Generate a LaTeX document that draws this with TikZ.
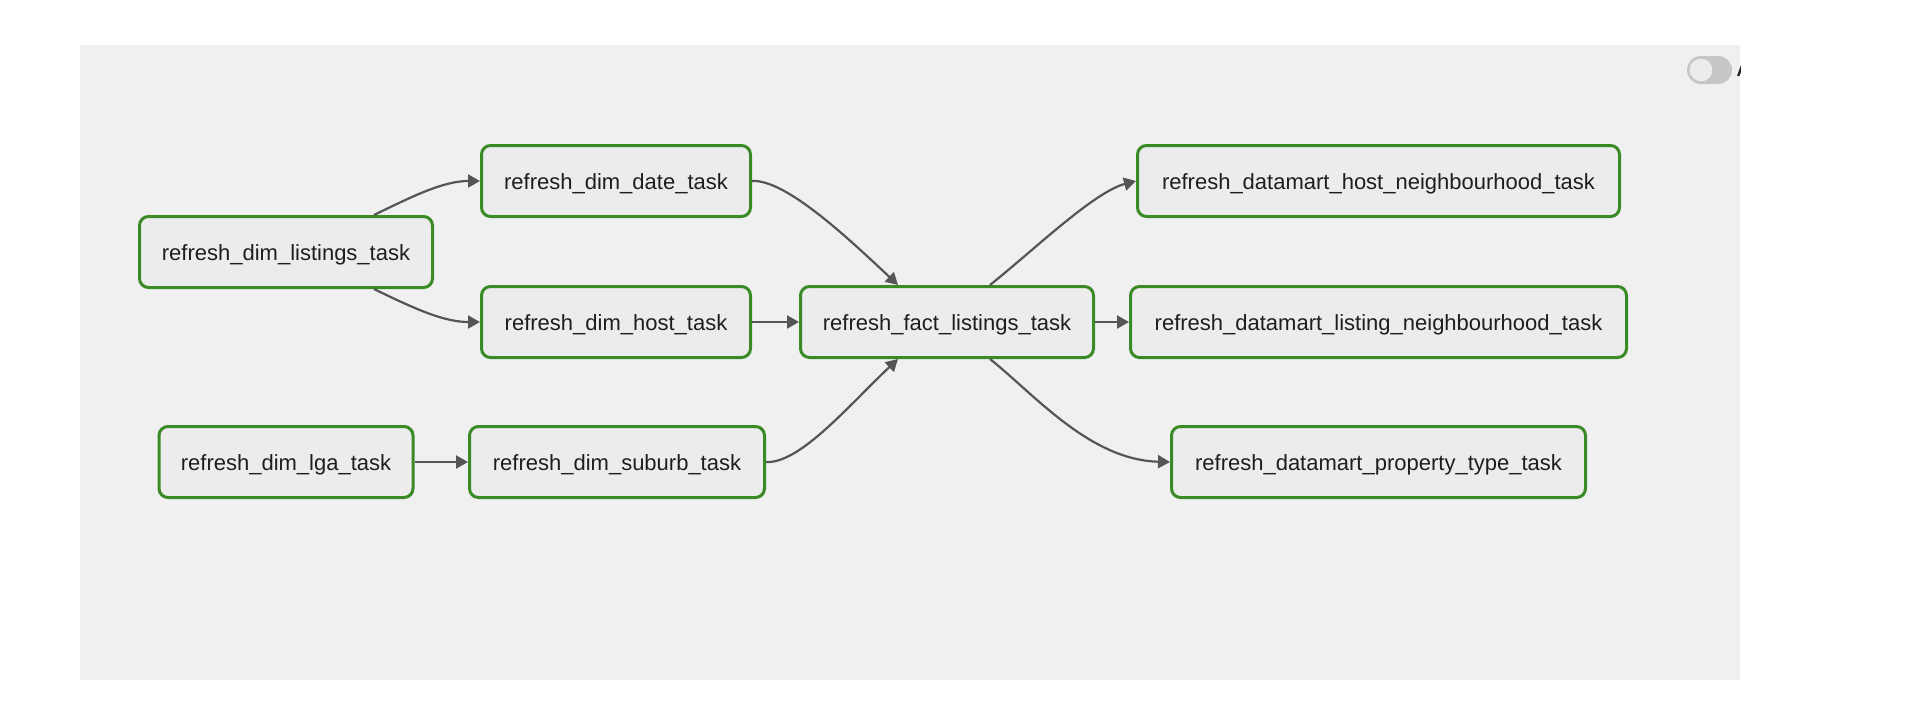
\documentclass[tikz,border=0pt]{standalone}
\usepackage{fontspec}
\setmainfont{Liberation Sans}
\usetikzlibrary{arrows.meta}

\definecolor{canvas}{HTML}{F0F0F0}
\definecolor{taskfill}{HTML}{ECECEC}
\definecolor{okgreen}{RGB}{58,138,38}
\definecolor{wire}{HTML}{555555}
\definecolor{switchgray}{HTML}{C6C6C6}
\definecolor{labelink}{HTML}{1E1E1E}

\tikzset{
  taskbox/.style={draw=okgreen, line width=3pt, fill=taskfill, rounded corners=9pt,
    minimum height=71pt, inner sep=0pt, text height=17pt, text depth=0pt,
    text=labelink, font=\fontsize{22}{26}\selectfont},
  flow/.style={draw=wire, line width=2.2pt,
    -{Triangle[length=12pt,width=13pt]}},
}

\begin{document}
\begin{tikzpicture}[x=1pt, y=-1pt]
  \useasboundingbox (0,0) rectangle (1910,712);
  \fill[white] (0,0) rectangle (1910,712);
  \fill[canvas] (80,45) rectangle (1740,680);

  % toggle switch in the top right corner
  \fill[switchgray, rounded corners=14pt] (1687,56) rectangle (1732,84);
  \node[circle, draw=switchgray, line width=2pt, fill=taskfill, minimum size=25pt,
    inner sep=0pt] (toggleknob) at (1701,70) {};
  \begin{scope}
    \clip (80,45) rectangle (1740,680);
    \node[anchor=base west, inner sep=0pt, text=labelink,
      font=\bfseries\fontsize{18}{20}\selectfont] (togglelabel) at (1736.5,76) {A};
  \end{scope}

  % tasks
  \node[taskbox, minimum width=293pt] (listings) at (286,252) {refresh\_dim\_listings\_task};
  \node[taskbox, minimum width=269pt] (date) at (616,181) {refresh\_dim\_date\_task};
  \node[taskbox, minimum width=269pt] (host) at (616,322) {refresh\_dim\_host\_task};
  \node[taskbox, minimum width=254pt] (lga) at (286,462) {refresh\_dim\_lga\_task};
  \node[taskbox, minimum width=295pt] (suburb) at (617,462) {refresh\_dim\_suburb\_task};
  \node[taskbox, minimum width=293pt] (fact) at (947,322) {refresh\_fact\_listings\_task};
  \node[taskbox, minimum width=482pt] (dmhost) at (1378.5,181) {refresh\_datamart\_host\_neighbourhood\_task};
  \node[taskbox, minimum width=496pt] (dmlisting) at (1378.5,322) {refresh\_datamart\_listing\_neighbourhood\_task};
  \node[taskbox, minimum width=414pt] (dmprop) at (1378.5,462) {refresh\_datamart\_property\_type\_task};

  % dependencies
  \draw[flow] ([xshift=88pt]listings.north) .. controls +(41,-20) and +(-36,0) .. (date.west);
  \draw[flow] ([xshift=88pt]listings.south) .. controls +(41,20) and +(-36,0) .. (host.west);
  \draw[flow] (lga.east) -- (suburb.west);
  \draw[flow] (date.east) .. controls +(34,-2) and +(-48,-45) .. ([xshift=-49pt]fact.north);
  \draw[flow] (host.east) -- (fact.west);
  \draw[flow] (suburb.east) .. controls +(34,2) and +(-48,45) .. ([xshift=-49pt]fact.south);
  \draw[flow] ([xshift=43pt]fact.north) .. controls +(45,-36) and +(-42,11) .. (dmhost.west);
  \draw[flow] (fact.east) -- (dmlisting.west);
  \draw[flow] ([xshift=43pt]fact.south) .. controls +(45,36) and +(-80,-2) .. (dmprop.west);
\end{tikzpicture}
\end{document}
